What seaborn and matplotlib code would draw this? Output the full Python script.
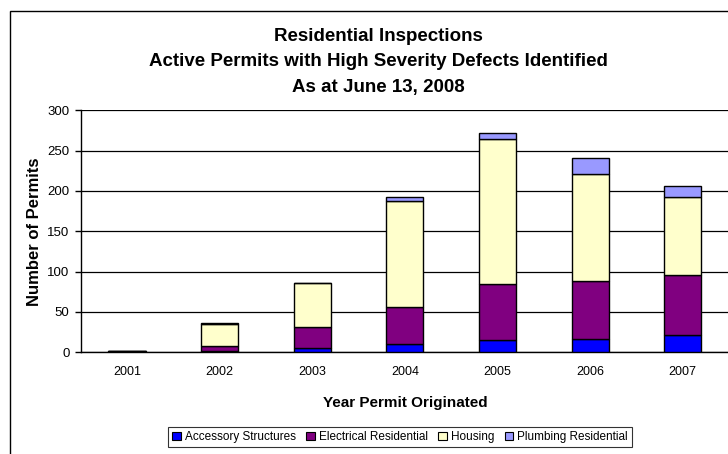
import numpy as np
import matplotlib
matplotlib.use("Agg")
import matplotlib.pyplot as plt
from matplotlib.patches import Rectangle, Patch
import seaborn as sns

sns.set_theme(style="white")
plt.rcParams["font.family"] = ["Liberation Sans", "DejaVu Sans"]
plt.rcParams["text.color"] = "black"
plt.rcParams["axes.labelcolor"] = "black"
plt.rcParams["xtick.color"] = "black"
plt.rcParams["ytick.color"] = "black"

years = ["2001", "2002", "2003", "2004", "2005", "2006", "2007"]
accessory = [0, 2, 5, 10, 15, 16, 21]
electrical = [2, 6, 26, 46, 70, 72, 75]
housing = [0, 27, 55, 132, 180, 133, 96]
plumbing = [0, 1, 0, 4, 7, 20, 14]

series_names = ["Accessory Structures", "Electrical Residential", "Housing", "Plumbing Residential"]
series_vals = [accessory, electrical, housing, plumbing]
colors = ["#0000FF", "#800080", "#FFFFCC", "#9999FF"]

fig = plt.figure(figsize=(7.28, 4.54), dpi=100)
W, H = 728, 454

# outer chart frame
fig.patches.append(Rectangle((10 / W, -0.1), 1.2, (H - 11) / H + 0.1,
                             transform=fig.transFigure, fill=False,
                             edgecolor="black", linewidth=1.0))

left, right = 80.7, 729.0
top, bottom = 110.3, 352.3
ax = fig.add_axes([left / W, (H - bottom) / H, (right - left) / W, (bottom - top) / H])

cum = np.zeros(len(years))
for name, vals, col in zip(series_names, series_vals, colors):
    vals = np.array(vals, dtype=float)
    sns.barplot(x=years, y=vals, bottom=cum, color=col, width=0.4,
                edgecolor="black", linewidth=1.0, ax=ax, saturation=1,
                zorder=3)
    cum = cum + vals

ax.set_ylim(0, 300)
ax.set_xlim(-0.5, len(years) - 0.5)
ax.set_yticks(np.arange(0, 301, 50))
ax.yaxis.grid(True, color="#000000", linewidth=0.9, zorder=0)
ax.xaxis.grid(False)
ax.set_axisbelow(True)

for s in ["top", "right"]:
    ax.spines[s].set_visible(False)
for s in ["left", "bottom"]:
    ax.spines[s].set_color("black")
    ax.spines[s].set_linewidth(1.0)

ax.set_xticks(np.arange(len(years)))
ax.set_xticklabels(years, fontsize=9)
ax.set_xticks(np.arange(len(years) + 1) - 0.5, minor=True)
ax.tick_params(axis="x", which="major", length=0, pad=10)
ax.tick_params(axis="x", which="minor", length=4, width=1, color="black", direction="out")
ax.tick_params(axis="y", which="major", length=4, width=1, color="black",
               direction="out", labelsize=9.5, pad=4, left=True)

ax.set_xlabel("Year Permit Originated", fontsize=11, fontweight="bold", labelpad=13)
ax.set_ylabel("Number of Permits", fontsize=12, fontweight="bold", labelpad=4)

fig.text(378 / W, 1 - 62 / H,
         "Residential Inspections\nActive Permits with High Severity Defects Identified\nAs at June 13, 2008",
         ha="center", va="center", fontsize=13.5, fontweight="bold", linespacing=1.68)

handles = [Patch(facecolor=c, edgecolor="black", linewidth=0.8) for c in colors]
leg = fig.legend(handles, series_names, loc="center", bbox_to_anchor=(400 / W, 1 - 437 / H),
                 ncol=4, fontsize=8.5, frameon=True, fancybox=False,
                 handlelength=0.7, handleheight=0.7, handletextpad=0.35,
                 columnspacing=0.9, borderpad=0.35, borderaxespad=0)
leg.get_frame().set_edgecolor("black")
leg.get_frame().set_linewidth(0.8)

fig.savefig("out.png", dpi=100)
